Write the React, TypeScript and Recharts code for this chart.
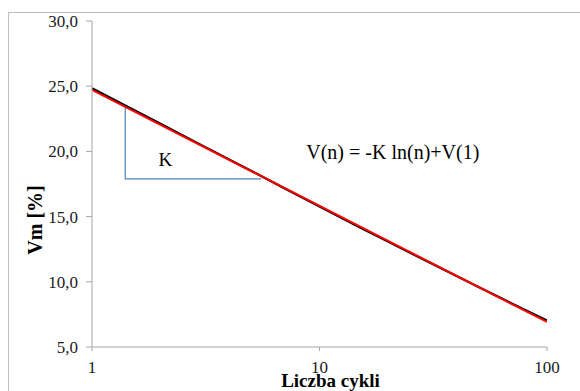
import React from "react";
import { LineChart, Line, XAxis, YAxis, ReferenceDot } from "recharts";

// measured Vm [%] against number of cycles
const cycles = [1, 2, 3, 5, 7, 10, 15, 20, 30, 50, 70, 100];
const vmMeasured = [24.84, 22.13, 20.52, 18.52, 17.18, 15.78, 14.18, 13.08, 11.53, 9.6, 8.34, 7.03];

// logarithmic fit V(n) = -K ln(n) + V(1)
const fitCycles = [1, 100];
const vmFit = [24.72, 6.92];

// slope triangle marking K
const slopeCycles = [1.4, 1.4, 5.55];
const slopeVm = [23.45, 17.9, 17.9];

const yTicks = [5, 10, 15, 20, 25, 30];
const xTicks = [1, 10, 100];

const measured = cycles.map((n, i) => ({ n, v: vmMeasured[i] }));
const fit = fitCycles.map((n, i) => ({ n, v: vmFit[i] }));
const slope = slopeCycles.map((n, i) => ({ n, v: slopeVm[i] }));

const serif = '"Liberation Serif", "Times New Roman", serif';
const axisGray = "#a6a6a6";
const tickColor = "#1a1a1a";

const XTick = ({ x, y, payload }: any) => (
  <text x={x} y={y + 12} textAnchor="middle" fontFamily={serif} fontSize={17} fill={tickColor}>
    {payload.value}
  </text>
);

const YTick = ({ x, y, payload }: any) => (
  <text x={x} y={y + 6} textAnchor="end" fontFamily={serif} fontSize={17} fill={tickColor}>
    {Number(payload.value).toFixed(1).replace(".", ",")}
  </text>
);

const note = (value: string, size: number) => ({ viewBox }: any) => (
  <text
    x={viewBox.x}
    y={viewBox.y + size * 0.34}
    textAnchor="middle"
    fontFamily={serif}
    fontSize={size}
    fill="#000"
  >
    {value}
  </text>
);

export default function App() {
  return (
    <div
      style={{
        position: "absolute",
        left: 0,
        top: 0,
        width: 580,
        height: 391,
        overflow: "hidden",
        background: "#fff",
      }}
    >
      <div
        style={{
          position: "absolute",
          left: 8,
          top: 12,
          width: 620,
          height: 420,
          border: "1px solid #bfbfbf",
        }}
      />
      <LineChart
        width={580}
        height={391}
        margin={{ top: 21, right: 33, bottom: 0, left: 0 }}
        style={{ position: "absolute", left: 0, top: 0 }}
      >
        <XAxis
          dataKey="n"
          type="number"
          scale="log"
          domain={[1, 100]}
          ticks={xTicks}
          allowDataOverflow
          height={44}
          tickSize={4}
          tickMargin={10}
          stroke={axisGray}
          tick={<XTick />}
          label={{
            content: ({ viewBox }: any) => (
              <text
                x={viewBox.x + viewBox.width / 2 + 11}
                y={387}
                textAnchor="middle"
                fontFamily={serif}
                fontWeight="bold"
                fontSize={19}
                fill="#000"
              >
                Liczba cykli
              </text>
            ),
          }}
        />
        <YAxis
          dataKey="v"
          type="number"
          domain={[5, 30]}
          ticks={yTicks}
          width={92}
          tickSize={6}
          tickMargin={8}
          stroke={axisGray}
          tick={<YTick />}
          label={{
            content: () => (
              <text
                x={42}
                y={220}
                transform="rotate(-90, 42, 220)"
                textAnchor="middle"
                fontFamily={serif}
                fontWeight="bold"
                fontSize={20}
                fill="#000"
              >
                Vm [%]
              </text>
            ),
          }}
        />
        <Line
          data={slope}
          dataKey="v"
          type="linear"
          stroke="#4f81bd"
          strokeWidth={1.2}
          dot={false}
          isAnimationActive={false}
        />
        <Line
          data={measured}
          dataKey="v"
          type="linear"
          stroke="#000"
          strokeWidth={2.2}
          dot={false}
          isAnimationActive={false}
        />
        <Line
          data={fit}
          dataKey="v"
          type="linear"
          stroke="#ff0000"
          strokeWidth={2}
          dot={false}
          isAnimationActive={false}
        />
        <ReferenceDot x={2.1} y={19.35} r={0} label={{ content: note("K", 19) }} />
        <ReferenceDot x={21} y={19.95} r={0} label={{ content: note("V(n) = -K ln(n)+V(1)", 20) }} />
      </LineChart>
    </div>
  );
}
